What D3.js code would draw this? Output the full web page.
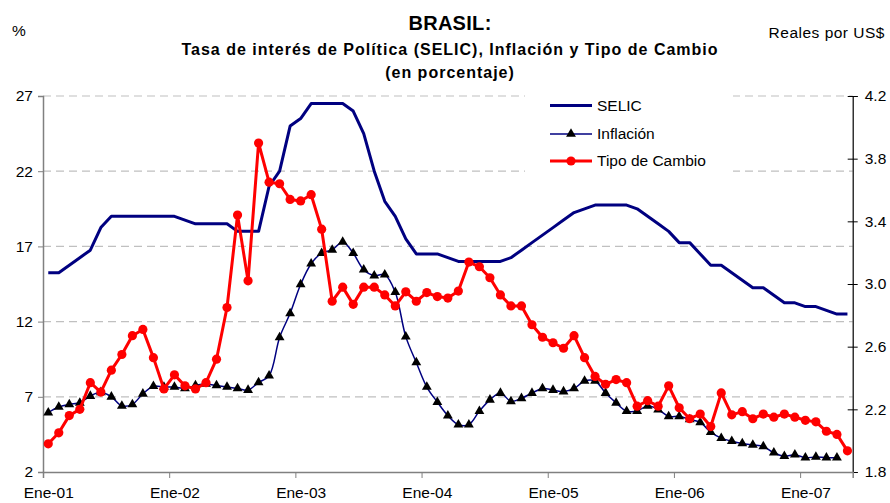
<!DOCTYPE html>
<html>
<head>
<meta charset="utf-8">
<script src="https://cdn.jsdelivr.net/npm/d3@7"></script>
<style>
  html, body { margin: 0; padding: 0; background: #fff; }
  svg { display: block; font-family: "Liberation Sans", Arial, sans-serif; }
</style>
</head>
<body>
<svg id="chart" width="890" height="503"></svg>
<script>
// ---------------- DATA ----------------
const months = d3.range(77); // Ene-01 .. May-07, monthly
const yearTickIdx = [0, 12, 24, 36, 48, 60, 72];
const yearLabels = ["Ene-01", "Ene-02", "Ene-03", "Ene-04", "Ene-05", "Ene-06", "Ene-07"];
const leftTicks = [2, 7, 12, 17, 22, 27];
const rightTicks = [1.8, 2.2, 2.6, 3.0, 3.4, 3.8, 4.2];

const selic = [15.25, 15.25, 15.75, 16.25, 16.75, 18.25, 19, 19, 19, 19, 19, 19,
  19, 18.75, 18.5, 18.5, 18.5, 18.5, 18, 18, 18, 21, 22, 25,
  25.5, 26.5, 26.5, 26.5, 26.5, 26, 24.5, 22, 20, 19, 17.5, 16.5,
  16.5, 16.5, 16.25, 16, 16, 16, 16, 16, 16.25, 16.75, 17.25, 17.75,
  18.25, 18.75, 19.25, 19.5, 19.75, 19.75, 19.75, 19.75, 19.5, 19, 18.5, 18,
  17.25, 17.25, 16.5, 15.75, 15.75, 15.25, 14.75, 14.25, 14.25, 13.75, 13.25, 13.25,
  13, 13, 12.75, 12.5, 12.5];

const inflacion = [5.95, 6.32, 6.5, 6.6, 7.05, 7.3, 7.0, 6.4, 6.5, 7.2, 7.7, 7.65,
  7.65, 7.55, 7.75, 7.85, 7.75, 7.65, 7.55, 7.45, 7.95, 8.4, 10.95, 12.55,
  14.47, 15.85, 16.55, 16.77, 17.3, 16.55, 15.45, 15.05, 15.12, 13.95, 11.0, 9.28,
  7.65, 6.65, 5.75, 5.15, 5.15, 6.05, 6.8, 7.25, 6.7, 6.9, 7.25, 7.55,
  7.45, 7.35, 7.55, 8.05, 8.05, 7.25, 6.6, 6.05, 6.05, 6.4, 6.15, 5.7,
  5.7, 5.5, 5.3, 4.65, 4.25, 4.05, 3.9, 3.8, 3.7, 3.28, 3.05, 3.15,
  2.95, 3.0, 2.95, 2.95];

const tipoCambio = [1.98, 2.05, 2.16, 2.20, 2.37, 2.31, 2.45, 2.55, 2.67, 2.71, 2.53, 2.33,
  2.42, 2.35, 2.33, 2.37, 2.52, 2.85, 3.44, 3.02, 3.90, 3.65, 3.64, 3.54,
  3.53, 3.57, 3.35, 2.89, 2.98, 2.87, 2.98, 2.98, 2.93, 2.86, 2.95, 2.89,
  2.945, 2.92, 2.91, 2.955, 3.14, 3.11, 3.04, 2.93, 2.86, 2.86, 2.74, 2.66,
  2.625, 2.59, 2.67, 2.53, 2.41, 2.36, 2.39, 2.37, 2.22, 2.255, 2.22, 2.35,
  2.21, 2.14, 2.17, 2.09, 2.305, 2.165, 2.185, 2.14, 2.17, 2.15, 2.17, 2.15,
  2.13, 2.12, 2.06, 2.04, 1.935];

const seriesNames = ["SELIC", "Inflación", "Tipo de Cambio"];

// ---------------- LAYOUT ----------------
const L = 43, R = 852.7, T = 96, B = 472;
const svg = d3.select("#chart");

const x = d3.scaleLinear().domain([0, months.length]).range([L, R]);
const yL = d3.scaleLinear().domain([2, 27]).range([B, T]);
const yR = d3.scaleLinear().domain([1.8, 4.2]).range([B, T]);
const cx = i => x(i + 0.5);

// gridlines
svg.append("g")
  .selectAll("line").data(leftTicks.filter(v => v > 2)).join("line")
  .attr("x1", L).attr("x2", R)
  .attr("y1", d => yL(d)).attr("y2", d => yL(d))
  .attr("stroke", "#c0c0c0").attr("stroke-width", 1.2)
  .attr("stroke-dasharray", "8,5");

// legend background (covers gridlines)
svg.append("rect").attr("x", 525).attr("y", 88).attr("width", 208).attr("height", 88).attr("fill", "#fff");

// left axis
const gL = svg.append("g").attr("transform", `translate(${L},0)`)
  .call(d3.axisLeft(yL).tickValues(leftTicks).tickSize(5).tickPadding(5).tickFormat(d3.format("d")));
gL.select(".domain").attr("stroke", "#808080").attr("stroke-width", 1.5);
gL.selectAll(".tick line").attr("stroke", "#808080");
gL.selectAll(".tick text").attr("font-size", 15.5).attr("fill", "#000").attr("font-family", "Liberation Sans, Arial, sans-serif");

// right axis
const gR = svg.append("g").attr("transform", `translate(${R},0)`)
  .call(d3.axisRight(yR).tickValues(rightTicks).tickSize(5).tickPadding(7).tickFormat(d3.format(".1f")));
gR.select(".domain").attr("stroke", "#000").attr("stroke-width", 1.2);
gR.selectAll(".tick line").attr("stroke", "#000").attr("x1", -5);
gR.selectAll(".tick text").attr("font-size", 15.5).attr("fill", "#000").attr("font-family", "Liberation Sans, Arial, sans-serif");

// bottom axis: ticks at year boundaries
const gB = svg.append("g").attr("transform", `translate(0,${B})`)
  .call(d3.axisBottom(x).tickValues(yearTickIdx).tickSize(6).tickFormat(""));
gB.select(".domain").attr("stroke", "#808080").attr("stroke-width", 1.5);
gB.selectAll(".tick line").attr("stroke", "#808080");
// labels centred on January categories
const gB2 = svg.append("g").attr("transform", `translate(0,${B})`)
  .call(d3.axisBottom(x).tickValues(yearTickIdx.map(d => d + 0.5)).tickSize(0).tickPadding(15)
    .tickFormat((d, i) => yearLabels[i]));
gB2.select(".domain").remove();
gB2.selectAll(".tick text").attr("font-size", 15.5).attr("fill", "#000").attr("font-family", "Liberation Sans, Arial, sans-serif");

// SELIC line
svg.append("path").datum(selic)
  .attr("fill", "none").attr("stroke", "#000080").attr("stroke-width", 3).attr("stroke-linejoin", "round")
  .attr("d", d3.line().x((d, i) => cx(i)).y(d => yL(d)));

// Inflation line + triangles
svg.append("path").datum(inflacion)
  .attr("fill", "none").attr("stroke", "#000080").attr("stroke-width", 1.5)
  .attr("d", d3.line().curve(d3.curveCatmullRom.alpha(0.5)).x((d, i) => cx(i)).y(d => yL(d)));
const tri = d3.symbol().type(d3.symbolTriangle).size(42);
svg.append("g").selectAll("path").data(inflacion).join("path")
  .attr("d", tri)
  .attr("transform", (d, i) => `translate(${cx(i)},${yL(d)})`)
  .attr("fill", "#000");

// Exchange rate line + dots
svg.append("path").datum(tipoCambio)
  .attr("fill", "none").attr("stroke", "#ff0000").attr("stroke-width", 3).attr("stroke-linejoin", "round")
  .attr("d", d3.line().x((d, i) => cx(i)).y(d => yR(d)));
svg.append("g").selectAll("circle").data(tipoCambio).join("circle")
  .attr("cx", (d, i) => cx(i)).attr("cy", d => yR(d)).attr("r", 4.6)
  .attr("fill", "#ff0000");

// Legend
const lg = svg.append("g");
const lyy = [105.5, 134, 161];
lg.append("line").attr("x1", 550).attr("x2", 592).attr("y1", lyy[0]).attr("y2", lyy[0])
  .attr("stroke", "#000080").attr("stroke-width", 3);
lg.append("line").attr("x1", 550).attr("x2", 592).attr("y1", lyy[1]).attr("y2", lyy[1])
  .attr("stroke", "#000080").attr("stroke-width", 1.5);
lg.append("path").attr("d", tri).attr("transform", `translate(571,${lyy[1]})`).attr("fill", "#000");
lg.append("line").attr("x1", 550).attr("x2", 592).attr("y1", lyy[2]).attr("y2", lyy[2])
  .attr("stroke", "#ff0000").attr("stroke-width", 3);
lg.append("circle").attr("cx", 571).attr("cy", lyy[2]).attr("r", 4.6).attr("fill", "#ff0000");
lg.selectAll("text").data(seriesNames).join("text")
  .attr("x", 597).attr("y", (d, i) => lyy[i]).attr("dy", "0.35em")
  .attr("font-size", 15.5).attr("fill", "#000").text(d => d);

// Titles
svg.append("text").attr("x", 450).attr("y", 30).attr("text-anchor", "middle")
  .attr("font-size", 20).attr("font-weight", "bold").attr("letter-spacing", 0.3).text("BRASIL:");
svg.append("text").attr("x", 450).attr("y", 55).attr("text-anchor", "middle")
  .attr("font-size", 16).attr("font-weight", "bold").attr("letter-spacing", 1)
  .text("Tasa de interés de Política (SELIC), Inflación y Tipo de Cambio");
svg.append("text").attr("x", 450).attr("y", 78).attr("text-anchor", "middle")
  .attr("font-size", 16).attr("font-weight", "bold").attr("letter-spacing", 1).text("(en porcentaje)");
svg.append("text").attr("x", 12).attr("y", 36).attr("font-size", 15.5).text("%");
svg.append("text").attr("x", 885).attr("y", 38).attr("text-anchor", "end").attr("font-size", 15.5)
  .attr("letter-spacing", 0.5).text("Reales por US$");
</script>
</body>
</html>
